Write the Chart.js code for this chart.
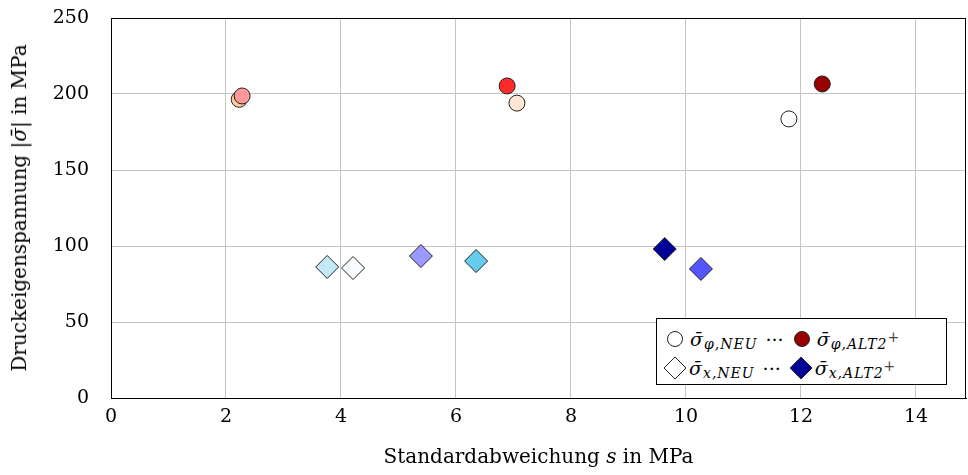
<!DOCTYPE html>
<html>
<head>
<meta charset="utf-8">
<script src="https://cdn.jsdelivr.net/npm/chart.js@4"></script>
<style>
  body { margin: 0; background: #fff; }
  #wrap { position: relative; width: 968px; height: 475px; }
  #legend {
    position: absolute; left: 656px; top: 318px; width: 289px; height: 65px;
    border: 1px solid #000; background: #fff; box-sizing: content-box;
    font-family: 'DejaVu Serif', serif; font-size: 19px; color: #000;
  }
  .row { position: absolute; left: 0; height: 30px; display: flex; align-items: center; white-space: nowrap; }
  .row svg { display: block; }
  .m { font-style: italic; }
  .sub { font-style: italic; font-size: 14px; position: relative; top: 5px; margin-left: 1px; letter-spacing: 1px; }
  .sup { font-size: 14px; position: relative; top: -2px; color: #444; }
  .dots { margin: 0 8px 0 8px; }
  .title { position: absolute; font-family: 'DejaVu Serif', serif; font-size: 20px; color: #000; white-space: nowrap; }
  #xtitle { left: 111px; width: 855px; top: 444px; text-align: center; }
  #ytitle { left: 19px; top: 208px; transform: translate(-50%, -50%) rotate(-90deg); }
</style>
</head>
<body>
<div id="wrap">
  <canvas id="chart" width="968" height="475"></canvas>
  <div id="xtitle" class="title">Standardabweichung <i>s</i> in MPa</div>
  <div id="ytitle" class="title">Druckeigenspannung |<i>σ̄</i>| in MPa</div>
  <div id="legend">
    <div class="row" style="top:5px; left:8px;">
      <svg width="20" height="20"><circle cx="10" cy="10" r="7.5" fill="#fff" stroke="#222" stroke-width="1"/></svg>
      <span class="m" style="margin-left:5px;">σ̄</span><span class="sub">φ,NEU</span>
      <span class="dots">···</span>
      <svg width="20" height="20"><circle cx="10" cy="10" r="7.5" fill="#990000" stroke="#222" stroke-width="1"/></svg>
      <span class="m" style="margin-left:5px;">σ̄</span><span class="sub">φ,ALT2</span><span class="sup">+</span>
    </div>
    <div class="row" style="top:34px; left:6px;">
      <svg width="24" height="24"><polygon points="12,1 23,12 12,23 1,12" fill="#fff" stroke="#222" stroke-width="1"/></svg>
      <span class="m" style="margin-left:2px;">σ̄</span><span class="sub">x,NEU</span>
      <span class="dots">···</span>
      <svg width="24" height="24"><polygon points="12,1 23,12 12,23 1,12" fill="#000099" stroke="#222" stroke-width="1"/></svg>
      <span class="m" style="margin-left:2px;">σ̄</span><span class="sub">x,ALT2</span><span class="sup">+</span>
    </div>
  </div>
</div>
<script>
'use strict';

// circles: sigma_phi
let phiS = [2.23, 2.28, 6.89, 7.06, 11.79, 12.37];
let phiVal = [196.5, 198.7, 205.3, 194, 183.6, 206.6];
let phiColors = ['#ffcc99', '#ff9999', '#ff2a2a', '#ffe6d5', '#ffffff', '#990000'];

// diamonds: sigma_x
let xS = [3.76, 4.21, 5.39, 6.35, 9.63, 10.26];
let xVal = [86.2, 85.5, 93.4, 90.1, 98, 84.9];
let xColors = ['#c5e8f7', '#f8fbff', '#9999ff', '#66ccee', '#000099', '#5555ff'];

let xTicks = [0, 2, 4, 6, 8, 10, 12, 14];
let yTicks = [0, 50, 100, 150, 200, 250];

function toPoints(xs, ys) {
  let arr = [];
  for (let i = 0; i < xs.length; i++) {
    arr.push({ x: xs[i], y: ys[i] });
  }
  return arr;
}

const font = { family: 'DejaVu Serif', size: 19 };

const ctx = document.getElementById('chart');
const myChart = new Chart(ctx, {
  type: 'scatter',
  data: {
    datasets: [{
      label: 'phi',
      data: toPoints(phiS, phiVal),
      pointStyle: 'circle',
      pointRadius: 8,
      pointHoverRadius: 8,
      backgroundColor: phiColors,
      borderColor: '#222',
      borderWidth: 1
    },
    {
      label: 'x',
      data: toPoints(xS, xVal),
      pointStyle: 'rectRot',
      pointRadius: 11.5,
      pointHoverRadius: 11.5,
      backgroundColor: xColors,
      borderColor: '#222',
      borderWidth: 1
    }]
  },
  options: {
    responsive: false,
    animation: false,
    layout: { autoPadding: false, padding: { top: 18, right: 2, left: 0, bottom: 0 } },
    plugins: { legend: { display: false }, tooltip: { enabled: false } },
    scales: {
      x: {
        type: 'linear',
        min: 0,
        max: 14.87,
        afterBuildTicks: function (scale) {
          scale.ticks = xTicks.map(v => ({ value: v }));
        },
        afterFit: function (scale) {
          scale.height = 77;
          scale.paddingLeft = 0;
          scale.paddingRight = 0;
        },
        grid: { color: '#c4c4c4', drawTicks: false },
        border: { color: '#000' },
        ticks: { color: '#000', font: font, padding: 8, maxRotation: 0 }
      },
      y: {
        type: 'linear',
        min: 0,
        max: 250,
        afterBuildTicks: function (scale) {
          scale.ticks = yTicks.map(v => ({ value: v }));
        },
        afterFit: function (scale) {
          scale.width = 111;
          scale.paddingTop = 0;
          scale.paddingBottom = 0;
        },
        grid: { color: '#c4c4c4', drawTicks: false },
        border: { color: '#000' },
        ticks: { color: '#000', font: font, padding: 22 }
      }
    }
  },
  plugins: [{
    id: 'frame',
    afterDatasetsDraw: function (chart) {
      const a = chart.chartArea;
      const c = chart.ctx;
      c.save();
      c.strokeStyle = '#000';
      c.lineWidth = 1;
      c.strokeRect(a.left + 0.5, a.top + 0.5, a.right - a.left - 1, a.bottom - a.top);
      c.restore();
    }
  }]
});
</script>
</body>
</html>
